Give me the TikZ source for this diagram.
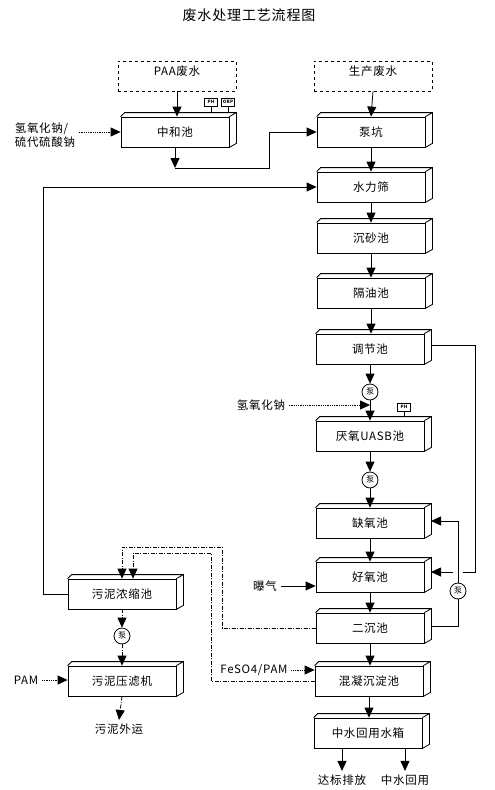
\documentclass[tikz,border=0pt]{standalone}
\usepackage{fontspec}
\setmainfont{Noto Sans CJK SC}[LetterSpace=6]
\usetikzlibrary{arrows.meta}

\begin{document}
\begin{tikzpicture}[x=1pt,y=-1pt,line width=0.8pt,
    font=\fontsize{11.5}{14}\selectfont,
    tank/.style={draw,minimum width=108pt,minimum height=30pt,inner sep=0pt},
    src/.style={draw,dashed,minimum width=118pt,minimum height=30pt,text depth=10pt},
    pump/.style={draw,circle,minimum size=16pt,inner sep=0pt,font=\fontsize{8}{8}\selectfont},
    tag/.style={draw,minimum width=13pt,minimum height=8pt,inner sep=0pt,font=\fontsize{4.5}{4.5}\selectfont\bfseries},
    flow/.style={-{Triangle[width=9pt,length=10pt]}},
    dose/.style={flow,densely dotted},
    sludge/.style={flow,dash pattern=on 4pt off 1.5pt on 1pt off 1.5pt}
  ]
    \useasboundingbox (0,0) rectangle (495,790);
    \node (title) at (249,15) {\fontsize{14}{14}\selectfont 废水处理工艺流程图};

    % sources
    \node[src] (paa) at (177,76) {PAA废水\hspace{18pt}};
    \node[src] (scfs) at (373,76) {生产废水\hspace{12pt}};

    % tanks
    \node[tank] (zh) at (175,132) {中和池};
    \node[tank] (bk) at (371,132) {泵坑};
    \node[tank] (slj) at (371,187) {水力筛};
    \node[tank] (csc) at (371,238) {沉砂池};
    \node[tank] (gyc) at (371,293) {隔油池};
    \node[tank] (tj) at (370,349) {调节池};
    \node[tank] (yy) at (370,436) {厌氧UASB池};
    \node[tank] (qy) at (370,523) {缺氧池};
    \node[tank] (hy) at (370,577) {好氧池};
    \node[tank] (ec) at (370,628) {二沉池};
    \node[tank] (hn) at (369,681) {混凝沉淀池};
    \node[tank] (zs) at (368,733) {中水回用水箱};
    \node[tank] (wn) at (122,594) {污泥浓缩池};
    \node[tank] (yl) at (122,681) {污泥压滤机};
    \foreach \n in {zh,bk,slj,csc,gyc,tj,yy,qy,hy,ec,hn,zs,wn,yl}
      \draw (\n.north west) -- ++(4,-4) -- ([shift={(7,-4)}]\n.north east)
        -- ([shift={(7,-4)}]\n.south east) -- (\n.south east)
        (\n.north east) -- ++(7,-4);

    % meters
    \node[tag] (ph1) at (211,102) {PH};
    \node[tag] (orp) at (228,102) {ORP};
    \node[tag] (ph2) at (404,407) {PH};
    \draw (ph1.south) -- ([yshift=4pt]ph1.south |- zh.north);
    \draw (orp.south) -- ([yshift=4pt]orp.south |- zh.north);
    \draw (ph2.south) -- ([yshift=4pt]ph2.south |- yy.north);

    % pumps
    \node[pump] (p1) at (370,392) {泵};
    \node[pump] (p2) at (370,480) {泵};
    \node[pump] (p3) at (458,591) {泵};
    \node[pump] (p4) at (122,636) {泵};

    % dosing and outlets
    \node[align=left] (naoh1) at (45,135) {氢氧化钠/\\硫代硫酸钠};
    \node (naoh2) at (261,405) {氢氧化钠};
    \node (bq) at (265,586) {曝气};
    \node (feso) at (254,670) {FeSO4/PAM};
    \node (pam) at (26,680) {PAM};
    \node (ywy) at (119,729) {污泥外运};
    \node (db) at (342,780) {达标排放};
    \node (zy) at (405,780) {中水回用};

    \coordinate (zhout) at (175,168);
    \coordinate (bend) at (269,168);
    \coordinate (back) at (43,594);
    \coordinate (tjR) at (431,345);
    \coordinate (byp) at (475,572);
    \coordinate (gapL) at (453,572);
    \coordinate (hyR) at (431,572);
    \coordinate (ecR) at (431,626);
    \coordinate (qyR) at (431,521);
    \coordinate (c1) at (222,547);
    \coordinate (c2) at (211,553);

    % main flow
    \draw[flow] (paa.south) -- (paa.south |- zh.north);
    \draw[flow] (scfs.south) -- (bk.north);
    \draw[flow] (zh.south) -- (zhout);
    \draw[flow] (zhout) -- (bend) |- (bk.west);
    \draw[flow] (bk.south) -- (slj.north);
    \draw[flow] (slj.south) -- (csc.north);
    \draw[flow] (csc.south) -- (gyc.north);
    \draw[flow] (gyc.south) -- (gyc.south |- tj.north);
    \draw[flow] (tj.south) -- (p1.north);
    \draw[flow] (p1.south) -- (yy.north);
    \draw[flow] (yy.south) -- (p2.north);
    \draw[flow] (p2.south) -- (qy.north);
    \draw[flow] (qy.south) -- (hy.north);
    \draw[flow] (hy.south) -- (ec.north);
    \draw[flow] (ec.south) -- (ec.south |- hn.north);
    \draw[flow] (hn.south) -- (hn.south |- zs.north);
    \draw[flow] (db.north |- zs.south) -- (db.north);
    \draw[flow] (zy.north |- zs.south) -- (zy.north);

    % returns
    \draw (tjR) -| (byp) -- ([xshift=5pt]p3.center |- byp);
    \draw[flow] (gapL) -- (hyR);
    \draw (ecR) -| (p3.south);
    \draw[flow] (p3.north) |- (qyR);
    \draw[flow] (wn.west) -- (back) |- (slj.west);

    % dosing
    \draw[dose] (naoh1.east |- zh.west) -- (zh.west);
    \draw[dose] (naoh2.east) -- (naoh2.east -| p1.south);
    \draw[flow] (bq.east) -- (bq.east -| hy.west);
    \draw[dose] (feso.east) -- (feso.east -| hn.west);
    \draw[dose] (pam.east) -- (pam.east -| yl.west);

    % sludge
    \draw[sludge] (ec.west) -| (c1) -| (wn.north);
    \draw[sludge] (hn.west) -| (c2) -| ([xshift=11pt]wn.north);
    \draw[sludge] (wn.south) -- (p4.north);
    \draw[sludge] (p4.south) -- (yl.north);
    \draw[sludge] (yl.south) -- (ywy.north);
\end{tikzpicture}
\end{document}
